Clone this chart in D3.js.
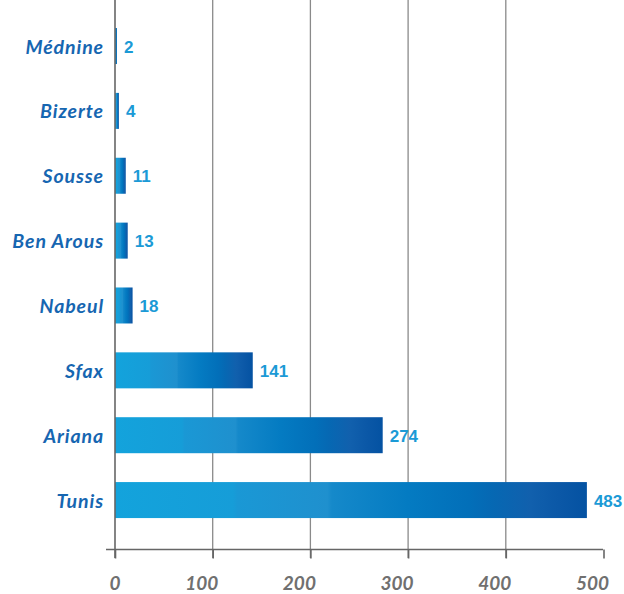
<!DOCTYPE html>
<html>
<head>
<meta charset="utf-8">
<script src="https://cdn.jsdelivr.net/npm/d3@7"></script>
<style>
  html, body { margin: 0; padding: 0; background: #fff; }
  svg { display: block; }
</style>
</head>
<body>
<svg id="chart" width="624" height="594"></svg>
<script>
// Governorates and their counts, top to bottom
const categories = ["Médnine", "Bizerte", "Sousse", "Ben Arous", "Nabeul", "Sfax", "Ariana", "Tunis"];
const values = [2, 4, 11, 13, 18, 141, 274, 483];
const tickValues = [0, 100, 200, 300, 400, 500];

const svg = d3.select("#chart");
const labelFont = "Lato, 'DejaVu Sans', sans-serif";
const valueFont = "'Liberation Sans', Arial, sans-serif";

const x = d3.scaleLinear().domain([0, 500]).range([115, 603.5]);
const y = d3.scaleBand().domain(categories).range([13.6, 532.5]).paddingInner(0.445).paddingOuter(0.2225);

// Horizontal blue gradient with banded stops
const defs = svg.append("defs");
const grad = defs.append("linearGradient").attr("id", "barGrad")
  .attr("x1", "0").attr("x2", "1").attr("y1", "0").attr("y2", "0");
[
  [0, "#13a3dc"], [0.25, "#169dd8"], [0.26, "#1a98d5"], [0.45, "#1f90ce"],
  [0.46, "#1589ca"], [0.62, "#047bc2"], [0.75, "#026fb9"], [0.8, "#0668b3"],
  [0.88, "#1160ad"], [0.94, "#0b58a7"], [1, "#0452a2"]
].forEach(([o, c]) => grad.append("stop").attr("offset", o).attr("stop-color", c));

// Vertical grid lines
svg.append("g").selectAll("line").data(tickValues.slice(1, 5)).join("line")
  .attr("x1", d => x(d)).attr("x2", d => x(d))
  .attr("y1", 0).attr("y2", 558)
  .attr("stroke", "#8a8a8a").attr("stroke-width", 1.3);

// Bars
svg.append("g").selectAll("rect").data(categories).join("rect")
  .attr("x", x(0))
  .attr("y", d => y(d))
  .attr("width", (d, i) => x(values[i]) - x(0))
  .attr("height", y.bandwidth())
  .attr("fill", "url(#barGrad)");

// Y axis line
svg.append("line").attr("x1", x(0)).attr("x2", x(0)).attr("y1", 0).attr("y2", 558)
  .attr("stroke", "#666").attr("stroke-width", 1.6);

// X axis
const xAxis = d3.axisBottom(x).tickValues(tickValues).tickSize(9).tickFormat(d3.format("d"));
const gx = svg.append("g").attr("transform", "translate(0,549.5)").call(xAxis);
gx.select(".domain").remove();
gx.insert("line", ":first-child").attr("x1", 106).attr("x2", 603).attr("y1", 0).attr("y2", 0)
  .attr("stroke", "#666").attr("stroke-width", 1.6);
gx.selectAll(".tick line").attr("stroke", "#666").attr("stroke-width", 1.6);
gx.selectAll(".tick text")
  .attr("x", 5).attr("y", 40).attr("dy", 0)
  .attr("text-anchor", "end")
  .attr("fill", "#707070")
  .style("font-family", labelFont).style("font-size", "19px")
  .style("font-style", "italic").style("font-weight", "bold");

// Category labels
svg.append("g").selectAll("text").data(categories).join("text")
  .attr("x", 104)
  .attr("y", d => y(d) + y.bandwidth() / 2 + 7.5)
  .attr("text-anchor", "end")
  .attr("fill", "#1666b1")
  .style("font-family", labelFont).style("font-size", "19.5px")
  .style("letter-spacing", "0.9px")
  .style("font-style", "italic").style("font-weight", "bold")
  .text(d => d);

// Value labels
svg.append("g").selectAll("text").data(categories).join("text")
  .attr("x", (d, i) => x(values[i]) + 7)
  .attr("y", d => y(d) + y.bandwidth() / 2 + 6.5)
  .attr("fill", "#1b9ad6")
  .style("font-family", valueFont).style("font-size", "17px")
  .style("font-weight", "bold")
  .text((d, i) => values[i]);
</script>
</body>
</html>
